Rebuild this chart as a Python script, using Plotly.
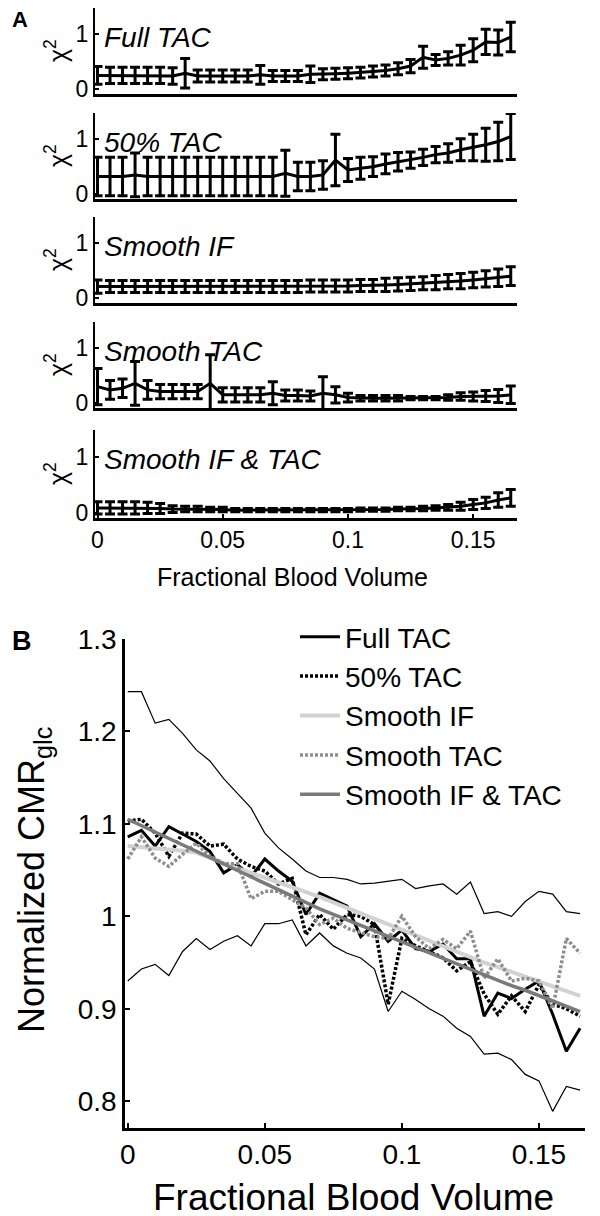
import plotly.graph_objects as go

# ---------------- data ----------------
fbv = [0.000, 0.005, 0.010, 0.015, 0.020, 0.025, 0.030, 0.035, 0.040, 0.045,
       0.050, 0.055, 0.060, 0.065, 0.070, 0.075, 0.080, 0.085, 0.090, 0.095,
       0.100, 0.105, 0.110, 0.115, 0.120, 0.125, 0.130, 0.135, 0.140, 0.145,
       0.150, 0.155, 0.160, 0.165]

panel_a_names = ["Full TAC", "50% TAC", "Smooth IF", "Smooth TAC", "Smooth IF & TAC"]

chi_full = [0.25, 0.25, 0.25, 0.25, 0.25, 0.25, 0.24, 0.29, 0.24, 0.24, 0.24, 0.24, 0.24, 0.26,
            0.24, 0.24, 0.24, 0.27, 0.27, 0.28, 0.29, 0.30, 0.32, 0.34, 0.37, 0.42, 0.58, 0.53,
            0.56, 0.62, 0.71, 0.86, 0.85, 0.95]
err_full = [0.16, 0.15, 0.15, 0.15, 0.15, 0.15, 0.15, 0.27, 0.11, 0.11, 0.11, 0.11, 0.11, 0.17,
            0.10, 0.10, 0.10, 0.15, 0.10, 0.10, 0.10, 0.10, 0.10, 0.10, 0.11, 0.12, 0.20, 0.10,
            0.12, 0.18, 0.21, 0.23, 0.23, 0.27]

chi_50 = [0.32, 0.32, 0.32, 0.35, 0.32, 0.32, 0.32, 0.32, 0.32, 0.32, 0.32, 0.32, 0.32, 0.32,
          0.32, 0.38, 0.32, 0.32, 0.35, 0.62, 0.44, 0.47, 0.50, 0.55, 0.59, 0.62, 0.67, 0.72,
          0.75, 0.81, 0.85, 0.90, 0.96, 1.05]
err_50 = [0.35, 0.35, 0.35, 0.40, 0.35, 0.35, 0.35, 0.35, 0.35, 0.35, 0.35, 0.35, 0.35, 0.35,
          0.35, 0.42, 0.26, 0.26, 0.26, 0.47, 0.21, 0.20, 0.18, 0.18, 0.17, 0.15, 0.15, 0.15,
          0.17, 0.20, 0.24, 0.30, 0.35, 0.42]

chi_sif = [0.21, 0.21, 0.21, 0.21, 0.21, 0.21, 0.21, 0.21, 0.21, 0.21, 0.21, 0.21, 0.21, 0.21,
           0.21, 0.21, 0.21, 0.22, 0.22, 0.22, 0.22, 0.23, 0.23, 0.24, 0.25, 0.26, 0.27, 0.28,
           0.30, 0.31, 0.33, 0.35, 0.37, 0.40]
err_sif = [0.12, 0.11, 0.11, 0.11, 0.11, 0.11, 0.11, 0.11, 0.11, 0.11, 0.11, 0.11, 0.11, 0.11,
           0.11, 0.11, 0.11, 0.11, 0.11, 0.11, 0.11, 0.11, 0.11, 0.12, 0.12, 0.12, 0.12, 0.13,
           0.13, 0.14, 0.14, 0.15, 0.16, 0.17]

chi_stac = [0.30, 0.24, 0.27, 0.36, 0.24, 0.21, 0.21, 0.21, 0.21, 0.36, 0.15, 0.15, 0.15, 0.15,
            0.18, 0.14, 0.14, 0.13, 0.18, 0.15, 0.10, 0.09, 0.09, 0.09, 0.09, 0.09, 0.09, 0.09,
            0.10, 0.12, 0.12, 0.13, 0.13, 0.15]
err_stac = [0.33, 0.17, 0.17, 0.40, 0.17, 0.13, 0.13, 0.13, 0.13, 0.52, 0.13, 0.13, 0.13, 0.13,
            0.21, 0.10, 0.10, 0.09, 0.30, 0.15, 0.08, 0.05, 0.05, 0.05, 0.05, 0.03, 0.03, 0.03,
            0.05, 0.07, 0.08, 0.10, 0.12, 0.16]

chi_sift = [0.09, 0.09, 0.09, 0.09, 0.09, 0.08, 0.07, 0.07, 0.07, 0.06, 0.06, 0.05, 0.05, 0.05,
            0.05, 0.05, 0.05, 0.05, 0.05, 0.05, 0.05, 0.06, 0.06, 0.06, 0.07, 0.07, 0.08, 0.09,
            0.10, 0.12, 0.15, 0.18, 0.23, 0.27]
err_sift = [0.11, 0.11, 0.11, 0.11, 0.10, 0.09, 0.06, 0.05, 0.05, 0.04, 0.04, 0.03, 0.03, 0.03,
            0.03, 0.03, 0.03, 0.03, 0.03, 0.03, 0.03, 0.03, 0.03, 0.03, 0.03, 0.03, 0.04, 0.04,
            0.05, 0.07, 0.09, 0.10, 0.13, 0.15]

chi_means = [chi_full, chi_50, chi_sif, chi_stac, chi_sift]
chi_errs = [err_full, err_50, err_sif, err_stac, err_sift]

# Panel B: normalized CMRglc
cmr_full = [1.086, 1.093, 1.076, 1.097, 1.089, 1.081, 1.070, 1.047, 1.056, 1.043, 1.062, 1.049,
            1.038, 1.002, 1.025, 1.018, 1.011, 0.978, 0.992, 0.973, 0.985, 0.965, 0.962, 0.970,
            0.954, 0.954, 0.892, 0.917, 0.911, 0.921, 0.930, 0.894, 0.854, 0.879]
cmr_50 = [1.103, 1.105, 1.090, 1.065, 1.090, 1.089, 1.076, 1.078, 1.062, 1.054, 1.049, 1.035,
          1.041, 0.980, 1.002, 0.986, 1.002, 1.000, 0.991, 0.905, 0.976, 0.968, 0.962, 0.955,
          0.941, 0.951, 0.916, 0.894, 0.914, 0.897, 0.926, 0.905, 0.900, 0.892]
cmr_sif = [1.076, 1.075, 1.074, 1.073, 1.071, 1.069, 1.063, 1.058, 1.052, 1.047, 1.042, 1.037,
           1.032, 1.027, 1.021, 1.015, 1.009, 1.003, 0.997, 0.991, 0.985, 0.979, 0.973, 0.967,
           0.961, 0.955, 0.950, 0.945, 0.940, 0.935, 0.930, 0.925, 0.920, 0.914]
cmr_stac = [1.062, 1.086, 1.063, 1.054, 1.067, 1.079, 1.065, 1.057, 1.057, 1.019, 1.027, 1.027,
            1.018, 1.009, 0.991, 0.998, 0.987, 0.982, 0.978, 0.976, 1.000, 0.978, 0.965, 0.975,
            0.965, 0.984, 0.933, 0.954, 0.930, 0.933, 0.930, 0.900, 0.976, 0.960]
cmr_sift = [1.105, 1.098, 1.091, 1.084, 1.077, 1.070, 1.063, 1.056, 1.049, 1.042, 1.035, 1.028,
            1.021, 1.014, 1.008, 1.002, 0.996, 0.990, 0.984, 0.978, 0.972, 0.966, 0.960, 0.954,
            0.948, 0.943, 0.937, 0.931, 0.925, 0.920, 0.914, 0.908, 0.903, 0.897]
cmr_upper = [1.243, 1.243, 1.209, 1.213, 1.198, 1.180, 1.168, 1.149, 1.133, 1.117, 1.090, 1.074,
             1.062, 1.049, 1.042, 1.042, 1.040, 1.035, 1.036, 1.038, 1.040, 1.030, 1.033, 1.035,
             1.024, 1.037, 1.003, 1.005, 1.000, 1.016, 1.027, 1.024, 1.005, 1.003]
cmr_lower = [0.930, 0.943, 0.948, 0.936, 0.962, 0.976, 0.964, 0.973, 0.979, 0.968, 0.992, 0.992,
             0.996, 0.968, 0.982, 0.968, 0.960, 0.955, 0.943, 0.897, 0.919, 0.910, 0.900, 0.892,
             0.879, 0.870, 0.851, 0.852, 0.845, 0.829, 0.822, 0.789, 0.816, 0.812]

x_ticks = [0, 0.05, 0.1, 0.15]
x_ticktext = ["0", "0.05", "0.1", "0.15"]
b_yticks = [0.8, 0.9, 1.0, 1.1, 1.2, 1.3]
b_yticktext = ["0.8", "0.9", "1", "1.1", "1.2", "1.3"]

# ---------------- layout helpers ----------------
W, H = 600, 1216
OFF = 8  # page body margin: the figure starts 8px right/down of the window corner
FONT = "Liberation Sans, Arial, Helvetica, sans-serif"


def px_x(p):
    return (p - OFF) / W


def px_y(p):
    return 1 - (p - OFF) / H


fig = go.Figure()

a_xdom = [px_x(95), px_x(517)]
a_rows = [(8, 94), (113, 199), (217, 303), (322, 408), (430, 518)]

layout = dict(
    width=W, height=H, margin=dict(l=0, r=0, t=0, b=0, autoexpand=False),
    paper_bgcolor="white", plot_bgcolor="white",
    font=dict(family=FONT, color="black"),
    showlegend=True,
)
annotations = []

for k, (top, bot) in enumerate(a_rows):
    idx = k + 1
    xa = "x" if idx == 1 else f"x{idx}"
    ya = "y" if idx == 1 else f"y{idx}"
    fig.add_trace(go.Scatter(
        x=fbv, y=chi_means[k], mode="lines", xaxis=xa, yaxis=ya,
        line=dict(color="black", width=3), showlegend=False,
        error_y=dict(type="data", array=chi_errs[k], visible=True,
                     color="black", thickness=3, width=5),
        cliponaxis=False,
    ))
    last = (idx == 5)
    layout[f"xaxis{'' if idx == 1 else idx}"] = dict(
        domain=a_xdom, anchor=ya, range=[-0.001, 0.1675],
        showline=True, linecolor="black", linewidth=2.5,
        showgrid=False, zeroline=False,
        ticks="inside" if last else "", ticklen=4, tickwidth=1.5, tickcolor="black",
        tickmode="array",
        tickvals=x_ticks if last else [], ticktext=x_ticktext if last else [],
        showticklabels=last, tickfont=dict(size=23, family=FONT),
    )
    layout[f"yaxis{'' if idx == 1 else idx}"] = dict(
        domain=[px_y(bot), px_y(top)], anchor=xa, range=[-0.09, 1.48],
        showline=True, linecolor="black", linewidth=2,
        showgrid=False, zeroline=False,
        ticks="inside", ticklen=4, tickwidth=1.5, tickcolor="black",
        tickvals=[0, 1], ticktext=["0", "1"],
        tickfont=dict(size=23, family=FONT),
    )
    annotations.append(dict(
        text="χ<sup>2</sup>", textangle=-90, xref="paper", yref=f"{ya} domain",
        x=px_x(56), y=0.5, xanchor="center", yanchor="middle", showarrow=False,
        font=dict(size=25, family=FONT),
    ))
    annotations.append(dict(
        text=f"<i>{panel_a_names[k]}</i>", xref=f"{xa} domain", yref=ya,
        x=0.016, y=0.95, xanchor="left", yanchor="middle", showarrow=False,
        font=dict(size=28, family=FONT),
    ))

annotations.append(dict(text="Fractional Blood Volume", xref="paper", yref="paper",
                        x=px_x(292), y=px_y(577), xanchor="center", yanchor="middle",
                        showarrow=False, font=dict(size=25, family=FONT)))
annotations.append(dict(text="<b>A</b>", xref="paper", yref="paper",
                        x=px_x(10), y=px_y(20), xanchor="left", yanchor="middle",
                        showarrow=False, font=dict(size=22, family=FONT)))
annotations.append(dict(text="<b>B</b>", xref="paper", yref="paper",
                        x=px_x(10), y=px_y(641), xanchor="left", yanchor="middle",
                        showarrow=False, font=dict(size=27, family=FONT)))

# ---------------- panel B ----------------
for yv in (cmr_upper, cmr_lower):
    fig.add_trace(go.Scatter(x=fbv, y=yv, mode="lines", xaxis="x6", yaxis="y6",
                             line=dict(color="black", width=1.2), showlegend=False))

b_series = [
    ("Full TAC", cmr_full, dict(color="black", width=3)),
    ("50% TAC", cmr_50, dict(color="black", width=3.5, dash="3px,2px")),
    ("Smooth IF", cmr_sif, dict(color="#d2d2d2", width=4)),
    ("Smooth TAC", cmr_stac, dict(color="#8e8e8e", width=3.5, dash="3px,2px")),
    ("Smooth IF & TAC", cmr_sift, dict(color="#7a7a7a", width=3.5)),
]
for name, yv, ln in b_series:
    fig.add_trace(go.Scatter(x=fbv, y=yv, mode="lines", name=name,
                             xaxis="x6", yaxis="y6", line=ln))

layout["xaxis6"] = dict(
    domain=[px_x(125), px_x(585)], anchor="y6", range=[-0.001, 0.1668],
    showline=True, linecolor="black", linewidth=2.5, showgrid=False, zeroline=False,
    ticks="inside", ticklen=5, tickwidth=2, tickcolor="black",
    tickvals=x_ticks, ticktext=x_ticktext, tickfont=dict(size=28, family=FONT),
)
layout["yaxis6"] = dict(
    domain=[px_y(1128), px_y(639)], anchor="x6", range=[0.771, 1.3],
    showline=True, linecolor="black", linewidth=2.5, showgrid=False, zeroline=False,
    ticks="inside", ticklen=5, tickwidth=2, tickcolor="black",
    tickvals=b_yticks, ticktext=b_yticktext, tickfont=dict(size=28, family=FONT),
)
annotations.append(dict(text="Normalized CMR<sub>glc</sub>", textangle=-90,
                        xref="paper", yref="paper", x=px_x(34), y=px_y(880),
                        xanchor="center", yanchor="middle", showarrow=False,
                        font=dict(size=36, family=FONT)))
annotations.append(dict(text="Fractional Blood Volume", xref="paper", yref="paper",
                        x=px_x(353), y=px_y(1197), xanchor="center", yanchor="middle",
                        showarrow=False, font=dict(size=37, family=FONT)))

layout["legend"] = dict(x=px_x(295), y=px_y(612), xanchor="left", yanchor="top",
                        font=dict(size=28, family=FONT), bgcolor="rgba(0,0,0,0)",
                        borderwidth=0, tracegroupgap=0, itemwidth=40)
layout["annotations"] = annotations
fig.update_layout(**layout)

fig.write_html("out.html")
